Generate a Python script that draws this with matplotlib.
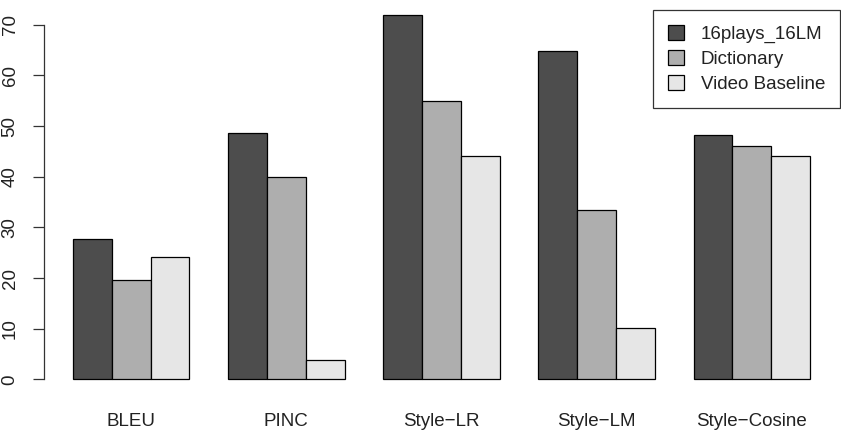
import matplotlib
matplotlib.use("Agg")
import matplotlib.pyplot as plt
import numpy as np

categories = ["BLEU", "PINC", "Style\u2212LR", "Style\u2212LM", "Style\u2212Cosine"]
series_names = ["16plays_16LM", "Dictionary", "Video Baseline"]
plays = [27.7, 48.7, 72.0, 64.9, 48.3]
dictionary = [19.7, 39.9, 54.9, 33.5, 46.1]
video = [24.1, 3.9, 44.1, 10.2, 44.0]
colors = ["#4D4D4D", "#AEAEAE", "#E6E6E6"]
yticks = [0, 10, 20, 30, 40, 50, 60, 70]

plt.rcParams['font.family'] = ['Liberation Sans', 'DejaVu Sans']
FS = 13.5

W, H = 841, 438
fig = plt.figure(figsize=(W/100, H/100), dpi=100)
ax = fig.add_axes([43.5/W, 1 - 394/H, (839.5-43.5)/W, 394/H])

series = [plays, dictionary, video]
nser = len(series)
for s, (vals, col, name) in enumerate(zip(series, colors, series_names)):
    xs = [1 + g*(nser+1) + s for g in range(len(categories))]
    ax.bar(xs, vals, width=1, align='edge', color=col, edgecolor='black',
           linewidth=0.9, label=name)

centers = [1 + g*(nser+1) + nser/2 for g in range(len(categories))]
ax.set_xticks(centers)
ax.set_xticklabels(categories, fontsize=FS, color='#222222')
ax.tick_params(axis='x', length=0, pad=14)

ax.set_xlim(0.24, 20.76)
ax.set_ylim(-2.88, 74.88)
ax.set_yticks(yticks)
ax.set_yticklabels([str(t) for t in yticks], rotation=90, va='center', fontsize=FS, color='#222222')
ax.tick_params(axis='y', length=8, width=0.9, pad=10, color='#333333')
for side in ['top', 'right', 'bottom']:
    ax.spines[side].set_visible(False)
ax.spines['left'].set_bounds(0, 70)
ax.spines['left'].set_linewidth(0.9)
ax.spines['left'].set_color('#333333')
ax.patch.set_visible(False)

leg = ax.legend(loc='upper right', bbox_to_anchor=(840/W, 1 - 10/H),
                bbox_transform=fig.transFigure, fontsize=FS, fancybox=False,
                edgecolor='#333333', framealpha=1, borderpad=0.8,
                handlelength=0.85, handleheight=0.85, handletextpad=0.9,
                labelspacing=0.38, borderaxespad=0)
leg.get_frame().set_linewidth(0.9)
for t in leg.get_texts():
    t.set_color('#222222')

fig.savefig("out.png", dpi=100)
